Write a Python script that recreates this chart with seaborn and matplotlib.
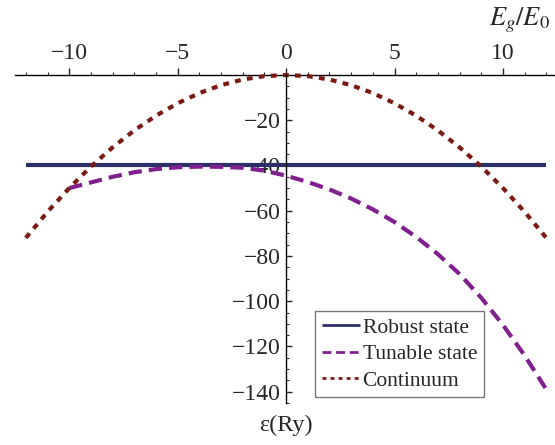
import matplotlib
matplotlib.use("Agg")
import matplotlib.pyplot as plt
from matplotlib.ticker import MultipleLocator, FixedLocator, FixedFormatter
import pandas as pd
import seaborn as sns

# Energies versus the gap ratio E_g/E_0 (energies in Ry)
robust_x = [-12, 12]
robust_energy = [-40, -40]

tunable_x = list(range(-10, 13))
tunable_energy = [-50, -47.5, -45, -43, -41.6, -40.8, -40.5, -40.6, -41, -42.3,
                  -44.5, -47.3, -50.6, -54.6, -59.4, -65, -71.6, -79.2, -88,
                  -98.5, -110.5, -124, -139]

continuum_x = list(range(-12, 13))
continuum_energy = [-72, -60.5, -50, -40.5, -32, -24.5, -18, -12.5, -8, -4.5,
                    -2, -0.5, 0, -0.5, -2, -4.5, -8, -12.5, -18, -24.5, -32,
                    -40.5, -50, -60.5, -72]

x_ticks = [-10, -5, 0, 5, 10]
y_ticks = [-20, -40, -60, -80, -100, -120, -140]

sns.set_style("ticks")
plt.rcParams["font.family"] = ["Liberation Serif", "DejaVu Serif"]
plt.rcParams["mathtext.fontset"] = "stix"

fig = plt.figure(figsize=(5.55, 4.45), dpi=100)
W, H = 555, 445
left_px, right_px, top_px, bottom_px = 15, 555, 75, 403
ax = fig.add_axes([left_px / W, 1 - bottom_px / H,
                   (right_px - left_px) / W, (bottom_px - top_px) / H])

robust = pd.DataFrame({"x": robust_x, "E": robust_energy})
tunable = pd.DataFrame({"x": tunable_x, "E": tunable_energy})
continuum = pd.DataFrame({"x": continuum_x, "E": continuum_energy})

sns.lineplot(data=robust, x="x", y="E", ax=ax, color="#2b3068", lw=3.0,
             label="Robust state", clip_on=False, solid_capstyle="butt")
sns.lineplot(data=tunable, x="x", y="E", ax=ax, color="#80208f", lw=3.0,
             linestyle=(0, (3.2, 1.7)), label="Tunable state", clip_on=False)
sns.lineplot(data=continuum, x="x", y="E", ax=ax, color="#7a1a12", lw=3.0,
             linestyle=(0, (1.4, 1.5)), label="Continuum", clip_on=False)

ax.set_xlim(-12.5, 12.4)
ax.set_ylim(-145, 0)

# Axes crossing at the origin
ax.spines["right"].set_visible(False)
ax.spines["bottom"].set_visible(False)
ax.spines["top"].set_position(("data", 0))
ax.spines["left"].set_position(("data", 0))
for s in ("top", "left"):
    ax.spines[s].set_linewidth(1.0)
    ax.spines[s].set_color("black")
ax.spines["top"].set_zorder(0.5)

ax.xaxis.tick_top()
ax.xaxis.set_major_locator(FixedLocator(x_ticks))
ax.xaxis.set_major_formatter(FixedFormatter([f"{t}".replace("-", "\u2212") for t in x_ticks]))
ax.xaxis.set_minor_locator(MultipleLocator(1))
ax.tick_params(axis="x", which="major", direction="out", length=5, width=1,
               pad=3, labelsize=17, top=True, bottom=False)
ax.tick_params(axis="x", which="minor", direction="out", length=2.5, width=0.8,
               top=True, bottom=False)

ax.yaxis.set_major_locator(FixedLocator(y_ticks))
ax.yaxis.set_major_formatter(FixedFormatter([f"{t}".replace("-", "\u2212") for t in y_ticks]))
ax.yaxis.set_minor_locator(MultipleLocator(5))
ax.tick_params(axis="y", which="major", direction="in", length=4, width=1,
               pad=4, labelsize=17)
ax.tick_params(axis="y", which="minor", direction="in", length=2.5, width=0.8)

ax.set_xlabel("")
ax.set_ylabel("")
ax.grid(False)

fig.text(550 / W, 1 - 20 / H, r"$E_g/E_0$", ha="right", va="center", fontsize=19)
fig.text(286 / W, 1 - 425 / H, "\u03b5(Ry)", ha="center", va="center", fontsize=17.5)

leg = ax.legend(loc="lower left", bbox_to_anchor=(0.556, 0.018), borderaxespad=0,
                fontsize=15.5, frameon=True, fancybox=False, handlelength=1.8,
                handletextpad=0.1, labelspacing=0.3, borderpad=0.3)
leg.get_frame().set_edgecolor("#555555")
leg.get_frame().set_linewidth(1.0)
for line in leg.get_lines():
    line.set_linewidth(2.0)

fig.savefig("out.png", dpi=100)
